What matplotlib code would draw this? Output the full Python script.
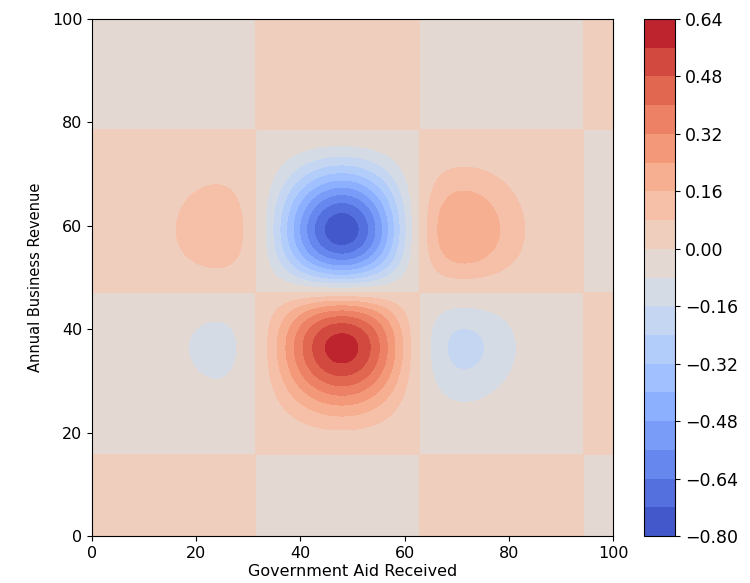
import numpy as np
import matplotlib
matplotlib.use("Agg")
from matplotlib import pyplot as plt

# Valeurs
x_range = [0, 100]
y_range = [0, 100]
wave_period = 10.0          # zeros des blocs a ~31.4, 62.8, 94.2 (x) et 15.7, 47.1, 78.5 (y)
bump_centre = [50, 50]
bump_width = 500.0
levels = np.arange(-0.80, 0.65, 0.08)
cbar_ticks = [-0.80, -0.64, -0.48, -0.32, -0.16, 0.00, 0.16, 0.32, 0.48, 0.64]
x_ticks = [0, 20, 40, 60, 80, 100]
y_ticks = [0, 20, 40, 60, 80, 100]

x = np.linspace(x_range[0], x_range[1], 400)
y = np.linspace(y_range[0], y_range[1], 400)
X, Y = np.meshgrid(x, y)
Z = (np.sin(X / wave_period) * np.cos(Y / wave_period)
     * np.exp(-((X - bump_centre[0]) ** 2 + (Y - bump_centre[1]) ** 2) / bump_width))

fig = plt.figure(figsize=(7.5, 5.83), dpi=100)
ax = fig.add_axes([92 / 750, 47 / 583, 521 / 750, 517 / 583])
cax = fig.add_axes([644 / 750, 47 / 583, 31 / 750, 517 / 583])

cs = ax.contourf(X, Y, Z, levels=levels, cmap="coolwarm")
ax.set_xlim(x_range)
ax.set_ylim(y_range)
ax.set_xticks(x_ticks)
ax.set_yticks(y_ticks)
ax.tick_params(labelsize=11.5)
ax.set_xlabel("Government Aid Received", fontsize=11.5, labelpad=2)
ax.set_ylabel("Annual Business Revenue", fontsize=10.5, labelpad=6)

cb = fig.colorbar(cs, cax=cax, ticks=cbar_ticks)
cb.ax.set_yticklabels([f"{t:.2f}".replace("-", "\u2212") for t in cbar_ticks])
cb.ax.tick_params(labelsize=12.5)

plt.savefig("out.png", dpi=100)
